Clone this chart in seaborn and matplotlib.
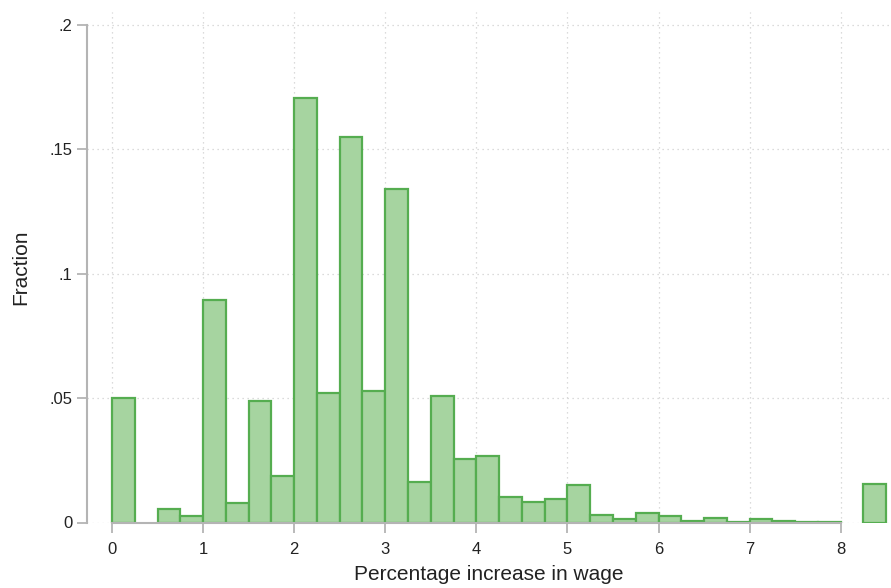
import numpy as np
import pandas as pd
import matplotlib
matplotlib.use("Agg")
import matplotlib.pyplot as plt
import seaborn as sns

# ─────────────────────────────────────────────────────────────────────────────
# DATA (bin width 0.25 from 0 to 8.5)
# ─────────────────────────────────────────────────────────────────────────────
bin_edges = [0.0, 0.25, 0.5, 0.75, 1.0, 1.25, 1.5, 1.75, 2.0, 2.25, 2.5, 2.75,
             3.0, 3.25, 3.5, 3.75, 4.0, 4.25, 4.5, 4.75, 5.0, 5.25, 5.5, 5.75,
             6.0, 6.25, 6.5, 6.75, 7.0, 7.25, 7.5, 7.75, 8.0, 8.25, 8.5]
fractions = [0.0500, 0.0, 0.0055, 0.0025, 0.0893, 0.0079, 0.0487, 0.0185,
             0.1705, 0.0519, 0.1550, 0.0527, 0.1340, 0.0162, 0.0507, 0.0257,
             0.0267, 0.0103, 0.0082, 0.0094, 0.0150, 0.0032, 0.0016, 0.0039,
             0.0028, 0.0007, 0.0017, 0.0003, 0.0013, 0.0006, 0.0003, 0.0003,
             0.0, 0.0153]

x_ticks = [0, 1, 2, 3, 4, 5, 6, 7, 8]
y_ticks = [0, 0.05, 0.1, 0.15, 0.2]
y_tick_labels = ["0", ".05", ".1", ".15", ".2"]

bin_mid = [(a + b) / 2 for a, b in zip(bin_edges[:-1], bin_edges[1:])]
df = pd.DataFrame({"wage_increase": bin_mid, "fraction": fractions})

# ─────────────────────────────────────────────────────────────────────────────
# PLOT
# ─────────────────────────────────────────────────────────────────────────────
sns.set_style("white")
plt.rcParams["font.family"] = ["Liberation Sans", "DejaVu Sans"]

fig = plt.figure(figsize=(8.91, 5.88), dpi=100)
ax = fig.add_axes([87 / 891, (588 - 522.5) / 588, (891 - 87) / 891, (522.5 - 12) / 588])

sns.histplot(data=df, x="wage_increase", weights="fraction", bins=bin_edges,
             stat="count", color="#a6d4a0", alpha=1.0,
             edgecolor="#55ad50", linewidth=1.6, ax=ax)

# empty bins: no outline along the baseline
for patch in ax.patches:
    if patch.get_height() == 0:
        patch.set_visible(False)

ax.set_xlim(-0.2744, 8.552)
ax.set_ylim(0, 0.2052)

ax.set_xticks(x_ticks)
ax.set_yticks(y_ticks)
ax.set_yticklabels(y_tick_labels)
ax.grid(True, color="#d0d0d0", linestyle=(0, (1, 3)), linewidth=0.9)
ax.set_axisbelow(True)

for side in ["top", "right"]:
    ax.spines[side].set_visible(False)
for side in ["left", "bottom"]:
    ax.spines[side].set_color("#b4b4b4")
    ax.spines[side].set_linewidth(1.5)
ax.spines["left"].set_bounds(0, 0.2)
ax.spines["bottom"].set_bounds(0, 8)

ax.tick_params(axis="both", bottom=True, left=True, colors="#b4b4b4",
               length=7, width=1.3, labelcolor="#222222", labelsize=12)
ax.tick_params(axis="x", pad=7)
ax.tick_params(axis="y", pad=3.5)

ax.set_xlabel("Percentage increase in wage", fontsize=15, color="#222222", labelpad=6)
ax.set_ylabel("Fraction", fontsize=15, color="#222222", labelpad=14)

fig.savefig("out.png", dpi=100)
plt.close(fig)
